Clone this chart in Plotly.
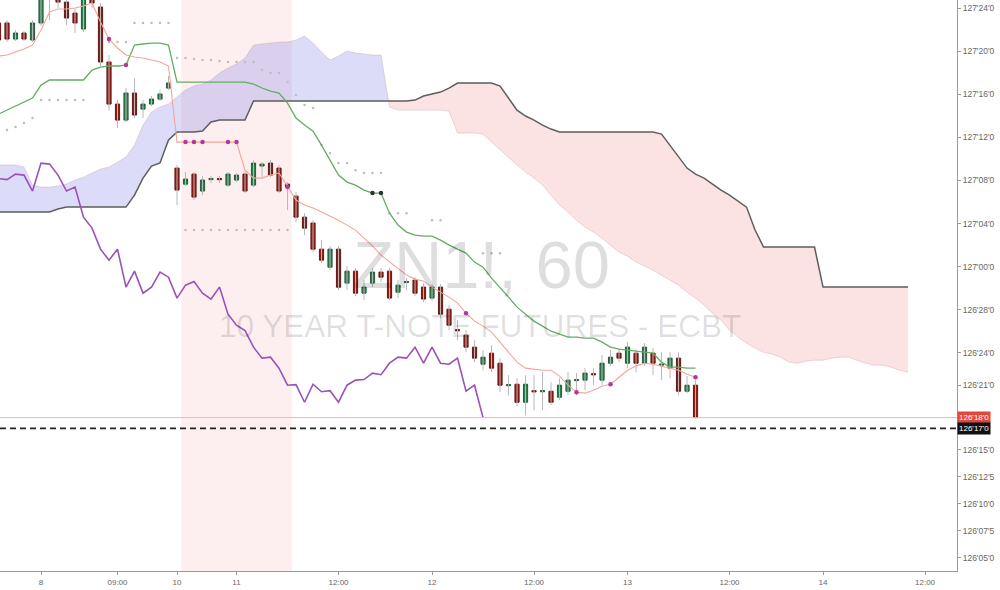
import plotly.graph_objects as go

# ---------------- DATA (prices in 32nds above 126'00) ----------------
bar_index = list(range(-5, 78))

open_32 = [54.61, 54.61, 53.12, 53.68, 53.03, 54.61, 57.11, 57.48, 56.55, 55.53,
           54.05, 57.11, 56.09, 50.99, 47.09, 45.60, 48.11, 46.62, 47.09, 47.55,
           48.57, 41.15, 39.66, 40.59, 39.02, 40.08, 40.18, 39.57, 40.04, 40.59,
           39.57, 41.34, 41.61, 41.15, 39.66, 38.55, 36.60, 36.05, 33.63, 31.96,
           33.63, 30.48, 31.59, 29.55, 30.48, 31.50, 31.59, 29.64, 30.53, 30.76,
           30.11, 29.09, 30.11, 28.06, 26.16, 25.65, 24.54, 22.96, 23.98, 23.05,
           20.96, 21.10, 19.43, 20.50, 20.40, 20.45, 19.90, 20.45, 21.43, 21.48,
           22.08, 21.48, 23.05, 23.98, 23.05, 23.98, 23.05, 23.98, 22.87, 22.59,
           23.52, 20.45, 21.01]
high_32 = [55.07, 54.88, 53.96, 53.86, 54.88, 57.30, 58.60, 57.85, 57.11, 56.00,
           57.30, 57.48, 56.46, 51.64, 47.46, 48.57, 49.50, 47.46, 47.83, 48.39,
           49.69, 41.43, 40.78, 40.78, 40.41, 40.41, 40.41, 40.78, 40.69, 40.87,
           41.89, 41.71, 41.89, 41.43, 39.85, 38.92, 36.97, 36.32, 34.47, 33.91,
           33.91, 32.06, 31.87, 30.76, 31.87, 31.87, 31.87, 30.76, 30.94, 31.03,
           30.48, 30.39, 30.39, 28.44, 27.04, 26.12, 25.19, 24.26, 24.72, 23.52,
           21.94, 21.66, 21.94, 21.94, 22.22, 21.29, 21.66, 22.22, 22.13, 22.59,
           22.59, 23.80, 24.26, 24.35, 25.00, 24.35, 24.91, 24.45, 24.07, 24.07,
           24.07, 21.85, 21.48]
low_32 = [52.66, 52.84, 52.94, 52.94, 52.84, 54.33, 54.88, 56.00, 54.42, 53.68,
          53.77, 56.00, 50.62, 46.53, 44.86, 45.42, 45.79, 45.79, 46.90, 47.37,
          48.39, 37.72, 39.48, 38.18, 38.64, 39.76, 39.76, 39.39, 39.85, 38.83,
          39.39, 40.31, 40.31, 38.83, 37.25, 36.14, 34.93, 33.35, 32.33, 31.68,
          29.83, 29.83, 29.27, 28.90, 30.11, 30.57, 28.90, 29.09, 29.83, 29.27,
          28.72, 28.81, 27.23, 26.12, 25.19, 24.07, 23.15, 22.40, 22.22, 20.36,
          20.08, 19.06, 18.23, 18.69, 18.69, 19.15, 19.62, 20.08, 20.08, 20.55,
          21.01, 21.01, 22.77, 23.15, 22.59, 22.22, 22.77, 21.94, 21.48, 21.66,
          20.08, 20.27, 17.95]
close_32 = [53.03, 53.12, 53.68, 53.12, 54.61, 57.02, 57.85, 56.55, 55.07, 54.61,
            56.93, 56.46, 50.99, 47.09, 45.60, 48.11, 46.07, 47.09, 47.55, 48.02,
            49.04, 39.11, 40.13, 38.46, 40.04, 40.18, 40.08, 40.59, 40.50, 39.02,
            41.61, 41.52, 40.50, 39.02, 39.39, 36.60, 35.58, 33.63, 32.61, 33.63,
            30.10, 31.59, 29.55, 30.11, 31.50, 31.03, 29.09, 30.29, 30.62, 29.55,
            29.00, 30.11, 27.60, 26.58, 26.07, 24.54, 23.52, 23.61, 22.59, 21.01,
            21.06, 19.43, 21.10, 20.40, 20.50, 19.43, 21.01, 21.48, 21.53, 22.13,
            21.98, 23.05, 23.61, 23.52, 24.54, 23.05, 24.54, 23.05, 22.96, 23.52,
            20.45, 21.01, 18.00]

tenkan_32 = [51.54, 51.64, 51.91, 52.19, 52.56, 53.96, 55.63, 55.91, 55.91, 56.00,
             56.18, 56.46, 54.70, 53.12, 52.29, 51.64, 51.45, 51.36, 51.17, 50.99,
             50.62, 43.56, 43.56, 43.56, 43.56, 43.56, 43.56, 43.56, 43.56, 40.96,
             40.22, 40.22, 40.50, 40.69, 39.39, 38.18, 37.72, 37.44, 37.07, 36.70,
             36.32, 35.86, 35.40, 34.65, 33.91, 33.07, 32.43, 31.87, 31.22, 30.85,
             30.66, 30.11, 29.64, 29.18, 28.62, 27.69, 26.95, 26.49, 25.93, 25.00,
             24.07, 23.15, 22.59, 22.50, 22.40, 22.40, 21.85, 21.01, 20.36, 20.27,
             20.55, 20.92, 21.10, 21.75, 22.40, 22.78, 23.05, 22.96, 22.78, 22.59,
             22.40, 22.03, 21.75]
kijun_32 = [46.16, 46.53, 46.90, 47.27, 47.65, 48.85, 49.32, 49.32, 49.32, 49.32,
            49.32, 50.24, 50.52, 50.62, 50.62, 50.71, 52.56, 52.66, 52.75, 52.75,
            52.56, 49.13, 49.13, 49.13, 49.13, 49.13, 49.13, 49.13, 49.13, 49.13,
            48.95, 48.58, 48.30, 48.11, 47.18, 45.79, 45.14, 44.58, 43.28, 41.89,
            40.50, 39.85, 39.57, 39.11, 38.83, 38.83, 36.97, 35.86, 35.21, 34.93,
            34.84, 34.84, 34.47, 34.00, 33.63, 33.26, 32.43, 31.96, 30.94, 30.11,
            29.18, 28.25, 27.60, 26.95, 26.49, 26.02, 25.74, 25.47, 25.47, 25.37,
            25.37, 25.00, 24.54, 24.35, 24.26, 24.17, 24.07, 23.98, 23.15, 22.68,
            22.68, 22.59, 22.59]

lag_shift = 25
cloud_index = list(range(-5, 103))
lead_a_32 = [41.43, 41.43, 41.43, 41.24, 39.57, 39.39, 39.39, 39.48, 39.67, 40.04,
             40.31, 40.69, 41.06, 41.24, 41.71, 42.17, 43.28, 45.14, 46.35, 46.81,
             47.09, 47.74, 48.39, 48.76, 48.95, 49.32, 49.97, 50.43, 50.80, 51.36,
             52.56, 52.66, 52.75, 52.84, 52.84, 53.03, 53.40, 52.75, 51.91, 51.17,
             51.54, 52.01, 51.82, 51.73, 51.64, 51.64, 46.81, 46.53, 46.53, 46.53,
             46.53, 46.53, 46.53, 46.44, 44.40, 44.40, 44.40, 44.30, 43.56, 42.82,
             42.17, 41.43, 40.78, 40.22, 39.57, 38.64, 37.72, 37.07, 36.32, 35.67,
             35.21, 34.65, 34.00, 33.35, 32.98, 32.43, 32.06, 31.68, 31.22, 30.76,
             30.29, 29.64, 29.09, 28.44, 27.69, 27.04, 26.12, 25.47, 24.91, 24.45,
             24.07, 23.89, 23.61, 23.15, 23.05, 23.24, 23.33, 23.33, 23.52, 23.61,
             23.61, 23.33, 23.05, 22.87, 22.87, 22.68, 22.40, 22.22]
lead_b_32 = [37.07, 37.07, 37.07, 37.07, 37.07, 37.07, 37.07, 37.35, 37.53, 37.53,
             37.53, 37.53, 37.53, 37.53, 37.53, 37.53, 38.64, 40.22, 41.34, 41.62,
             43.75, 44.49, 44.49, 44.49, 44.58, 45.42, 45.60, 45.60, 45.60, 45.60,
             47.37, 47.37, 47.37, 47.37, 47.37, 47.37, 47.37, 47.37, 47.37, 47.37,
             47.37, 47.37, 47.37, 47.37, 47.37, 47.37, 47.37, 47.37, 47.37, 47.46,
             47.83, 48.02, 48.20, 48.57, 49.04, 49.04, 49.04, 49.04, 49.04, 48.76,
             47.65, 46.53, 45.98, 45.60, 45.14, 44.77, 44.49, 44.49, 44.49, 44.49,
             44.49, 44.49, 44.49, 44.49, 44.49, 44.49, 44.49, 44.49, 44.30, 43.28,
             42.17, 41.15, 40.59, 40.22, 39.67, 39.11, 38.64, 38.09, 37.53, 35.40,
             33.82, 33.82, 33.82, 33.82, 33.82, 33.82, 33.82, 30.11, 30.11, 30.11,
             30.11, 30.11, 30.11, 30.11, 30.11, 30.11, 30.11, 30.11]

upper_dots_32 = [None, None, None, None, None, None, None, None, None, None,
                 None, None, None, 52.84, 52.84, 52.84, 54.61, 54.61, 54.61, 54.61,
                 54.61, 51.36, 51.36, 51.27, 51.17, 51.17, 51.08, 50.99, 50.99, 50.99,
                 50.99, 50.24, 49.97, 49.97, 49.13, 47.93, 47.00, 46.72, 43.28, 42.54,
                 41.61, 41.61, 40.96, 40.69, 40.69, 40.69, 36.97, 36.97, 36.97, None,
                 None, 36.32, 36.32, None, None, None, None, 33.26, 33.26, 33.26,
                 None, None, None, None, None, None, None, None, None, None,
                 None, None, None, None, None, None, None, None, None, None,
                 None, None, None]
lower_dots_32 = [44.40, 44.68, 44.96, 45.33, 45.79, 47.46, 47.46, 47.46, 47.46, 47.46,
                 47.46, None, None, None, None, None, None, None, None, None,
                 None, None, 35.40, 35.40, 35.40, 35.40, 35.40, 35.40, 35.40, 35.40,
                 35.40, 35.40, 35.40, 35.40, 35.40, None, None, None, None, None,
                 None, None, None, None, None, None, None, None, None, None,
                 None, None, None, None, None, None, None, None, None, None,
                 None, None, None, None, None, None, None, None, None, None,
                 None, None, None, None, None, None, None, None, None, None,
                 None, None, None]

tenkan_marks = [8, 17, 18, 19, 22, 23, 29, 50, 63, 67, 77]
kijun_purple_marks = [10]
kijun_black_marks = [39, 40]

highlight_start, highlight_end = 16.5, 29.5
last_price_32 = 18.0
level_32 = 17.0

y_tick_32 = [56, 52, 48, 44, 40, 36, 32, 28, 24, 21, 15, 12.5, 10, 7.5, 5]
y_tick_text = ["127'24'0", "127'20'0", "127'16'0", "127'12'0", "127'08'0", "127'04'0",
               "127'00'0", "126'28'0", "126'24'0", "126'21'0", "126'15'0", "126'12'5",
               "126'10'0", "126'07'5", "126'05'0"]
x_tick_pos = [0, 9, 16, 23, 35, 46, 58, 69, 81, 92, 104]
x_tick_text = ["8", "09:00", "10", "11", "12:00", "12", "12:00", "13", "12:00", "14", "12:00"]

# ---------------- helpers ----------------
BASE = 126.0


def P(v):
    return None if v is None else BASE + v / 32.0


def Pl(lst):
    return [P(v) for v in lst]


o = Pl(open_32); h = Pl(high_32); l = Pl(low_32); c = Pl(close_32)
x = bar_index

fig = go.Figure()


def cloud_segments(xs, a, b):
    segs = []
    sx, sa, sb = [xs[0]], [a[0]], [b[0]]
    sign = a[0] >= b[0]
    for k in range(1, len(xs)):
        s = a[k] >= b[k]
        if s != sign:
            d0 = a[k - 1] - b[k - 1]
            d1 = a[k] - b[k]
            t = d0 / (d0 - d1)
            xc = xs[k - 1] + t * (xs[k] - xs[k - 1])
            yc = a[k - 1] + t * (a[k] - a[k - 1])
            sx.append(xc); sa.append(yc); sb.append(yc)
            segs.append((sign, sx, sa, sb))
            sx, sa, sb = [xc], [yc], [yc]
            sign = s
        sx.append(xs[k]); sa.append(a[k]); sb.append(b[k])
    segs.append((sign, sx, sa, sb))
    return segs


la = Pl(lead_a_32); lb = Pl(lead_b_32)
for sign, sx, sa, sb in cloud_segments(cloud_index, la, lb):
    fig.add_trace(go.Scatter(
        x=sx + sx[::-1], y=sa + sb[::-1], fill='toself', mode='lines',
        line=dict(width=0),
        fillcolor='rgba(90,90,225,0.21)' if sign else 'rgba(240,90,90,0.17)',
        hoverinfo='skip'))

fig.add_trace(go.Scatter(x=cloud_index, y=la, mode='lines',
                         line=dict(color='rgba(200,150,170,0.35)', width=1), hoverinfo='skip'))
fig.add_trace(go.Scatter(x=cloud_index, y=lb, mode='lines',
                         line=dict(color='#5e5e5e', width=1.5), hoverinfo='skip'))

fig.add_trace(go.Scatter(x=x, y=Pl(upper_dots_32), mode='markers',
                         marker=dict(color='#bdbdbd', size=2.5), hoverinfo='skip'))
fig.add_trace(go.Scatter(x=x, y=Pl(lower_dots_32), mode='markers',
                         marker=dict(color='#bdbdbd', size=2.5), hoverinfo='skip'))

lag_x = [i - lag_shift for i in x if i - lag_shift >= x[0]]
lag_y = [c[k] for k, i in enumerate(x) if i - lag_shift >= x[0]]
fig.add_trace(go.Scatter(x=lag_x, y=lag_y, mode='lines',
                         line=dict(color='#9b52b8', width=1.6), hoverinfo='skip'))

wx, wy = [], []
for i, hi, lo in zip(x, h, l):
    wx += [i, i, None]
    wy += [lo, hi, None]
fig.add_trace(go.Scatter(x=wx, y=wy, mode='lines',
                         line=dict(color='#b8b8b8', width=1), hoverinfo='skip'))

fig.add_trace(go.Candlestick(
    x=x, open=o, close=c,
    high=[max(a, b) for a, b in zip(o, c)], low=[min(a, b) for a, b in zip(o, c)],
    increasing=dict(line=dict(color='#1f5e38', width=1), fillcolor='#2e7d4f'),
    decreasing=dict(line=dict(color='#6e1410', width=1), fillcolor='#8e1f17'),
    whiskerwidth=0, hoverinfo='skip'))

fig.add_trace(go.Scatter(x=x, y=Pl(kijun_32), mode='lines',
                         line=dict(color='#62ad62', width=1.3), hoverinfo='skip'))
fig.add_trace(go.Scatter(x=x, y=Pl(tenkan_32), mode='lines',
                         line=dict(color='#f5a39b', width=1.1), hoverinfo='skip'))

tk = Pl(tenkan_32); kj = Pl(kijun_32)
fig.add_trace(go.Scatter(x=tenkan_marks, y=[tk[x.index(i)] for i in tenkan_marks], mode='markers',
                         marker=dict(color='#b2399c', size=4.5), hoverinfo='skip'))
fig.add_trace(go.Scatter(x=kijun_purple_marks, y=[kj[x.index(i)] for i in kijun_purple_marks],
                         mode='markers', marker=dict(color='#b2399c', size=4.5), hoverinfo='skip'))
fig.add_trace(go.Scatter(x=kijun_black_marks, y=[kj[x.index(i)] for i in kijun_black_marks],
                         mode='markers', marker=dict(color='#333333', size=4.5), hoverinfo='skip'))

shapes = [
    dict(type='rect', xref='x', yref='paper', x0=highlight_start, x1=highlight_end, y0=0, y1=1,
         fillcolor='rgba(240,100,100,0.10)', line=dict(width=0), layer='below'),
    dict(type='line', xref='paper', yref='y', x0=0, x1=1, y0=P(last_price_32), y1=P(last_price_32),
         line=dict(color='#f2b4b4', width=1)),
    dict(type='line', xref='paper', yref='y', x0=0, x1=1, y0=P(level_32), y1=P(level_32),
         line=dict(color='#222222', width=1.6, dash='6px,4px')),
]

annotations = [
    dict(text='ZN1!, 60', xref='paper', yref='paper', x=0.503, y=0.536, showarrow=False,
         font=dict(size=67, color='rgba(0,0,0,0.13)', family='Liberation Sans')),
    dict(text='10 YEAR T-NOTE FUTURES - ECBT', xref='paper', yref='paper', x=0.5016, y=0.429,
         showarrow=False, font=dict(size=31.5, color='rgba(0,0,0,0.12)', family='Liberation Sans')),
    dict(text="126'18'0", xref='paper', yref='y', x=1.0, y=P(last_price_32), xanchor='left',
         showarrow=False, bgcolor='#e0483c', borderpad=1,
         font=dict(size=8, color='white', family='Liberation Sans')),
    dict(text="126'17'0", xref='paper', yref='y', x=1.0, y=P(level_32), xanchor='left',
         showarrow=False, bgcolor='#111111', borderpad=1,
         font=dict(size=8, color='white', family='Liberation Sans')),
]

fig.update_layout(
    width=1000, height=590, margin=dict(l=0, r=43, t=0, b=19),
    plot_bgcolor='white', paper_bgcolor='white', showlegend=False,
    font=dict(family='Liberation Sans'),
    shapes=shapes, annotations=annotations,
    xaxis=dict(range=[-4.824, 107.76], tickvals=x_tick_pos, ticktext=x_tick_text,
               showgrid=False, zeroline=False, showline=True, linecolor='#9a9a9a',
               ticks='outside', ticklen=3, tickcolor='#9a9a9a',
               tickfont=dict(size=8, color='#666666'), rangeslider=dict(visible=False)),
    yaxis=dict(side='right', range=[P(3.774), P(56.742)],
               tickvals=[P(v) for v in y_tick_32], ticktext=y_tick_text,
               showgrid=False, zeroline=False, showline=True, linecolor='#9a9a9a',
               ticks='outside', ticklen=3, tickcolor='#9a9a9a',
               tickfont=dict(size=8.5, color='#666666')),
)

fig.write_html('out.html', config={'displayModeBar': False},
               post_script="document.body.style.margin='0';document.body.style.overflow='hidden';")
